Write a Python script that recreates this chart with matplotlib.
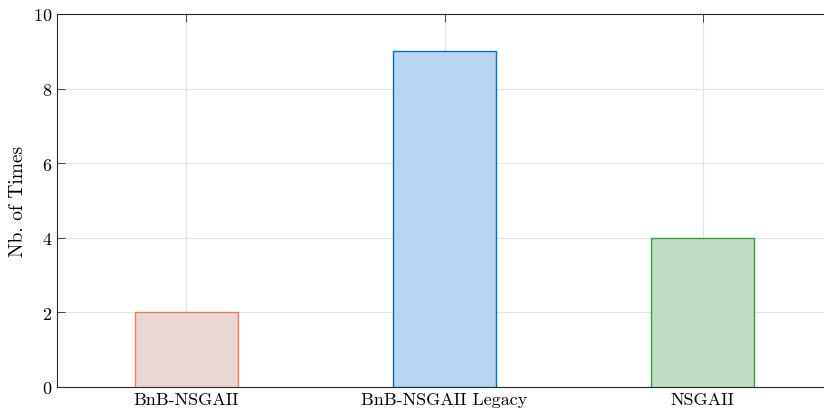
import matplotlib
matplotlib.use("Agg")
import matplotlib.pyplot as plt
import numpy as np

plt.rcParams['font.family'] = 'serif'
plt.rcParams['font.serif'] = ['cmr10']
plt.rcParams['mathtext.fontset'] = 'cm'
plt.rcParams['axes.formatter.use_mathtext'] = True

# data
methods = ['BnB-NSGAII', 'BnB-NSGAII Legacy', 'NSGAII']
counts = [2, 9, 4]
face_colors = ['#ebd6d6', '#b9d5f2', '#c1dcc5']
edge_colors = ['#e0825c', '#0072bd', '#3a9a42']

fig = plt.figure(figsize=(8.24, 4.14), dpi=100)
# axes runs slightly past the right edge of the figure, as in the reference
ax = fig.add_axes([57/824, 1 - 388/414, (832 - 57)/824, (388 - 15)/414])

x = np.arange(1, len(methods) + 1)
ax.bar(x, counts, width=0.4, color=face_colors, edgecolor=edge_colors, linewidth=1.0, zorder=3)

ax.set_xlim(0.5, 3.5)
ax.set_ylim(0, 10)
ax.set_xticks(x)
ax.set_xticklabels(methods, fontsize=13)
ax.set_yticks(np.arange(0, 11, 2))
ax.tick_params(axis='y', labelsize=13)
ax.set_ylabel('Nb. of Times', fontsize=14)

ax.grid(True, color='#e3e3e3', linewidth=0.8, zorder=0)
ax.tick_params(direction='in', length=5.5, width=0.6, top=True, right=True, color='#262626')
for s in ax.spines.values():
    s.set_color('#262626')
    s.set_linewidth(0.8)

fig.savefig('out.png', dpi=100)
